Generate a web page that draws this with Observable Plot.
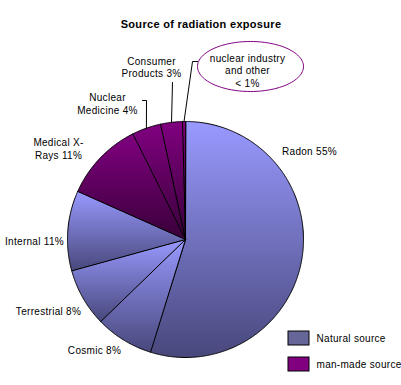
<!DOCTYPE html>
<html><head><meta charset="utf-8">
<script src="https://cdn.jsdelivr.net/npm/d3@7"></script>
<script src="https://cdn.jsdelivr.net/npm/@observablehq/plot@0.6"></script>
<style>body{margin:0;background:#fff} svg{display:block}</style>
</head><body><div id="chart"></div>
<script>
// ---- data ----
const title = "Source of radiation exposure";
const sources = ["Radon","Cosmic","Terrestrial","Internal","Medical X-Rays","Nuclear Medicine","Consumer Products","nuclear industry and other"];
const percents = [55, 8, 8, 11, 11, 4, 3, 0.4];
const kinds = ["natural","natural","natural","natural","manmade","manmade","manmade","manmade"];
const labelTexts = ["Radon 55%","Cosmic 8%","Terrestrial 8%","Internal 11%","Medical X-\nRays 11%","Nuclear\nMedicine 4%","Consumer\nProducts 3%","nuclear industry\nand other\n< 1%"];
const legendKinds = ["natural","manmade"];
const legendLabels = ["Natural source","man-made source"];

// ---- layout ----
const W = 401, H = 385;
const cx = 185, cy = 239, R = 118;
const labelPos = [[309,150],[94,349],[48,310],[34,240],[58,148],[107,103],[151,66.5],[247,69.5]];
const leaderPts = {5: [[142,100],[146,100]], 6: [[172,82]], 7: [[197,61],[192,61]]};
const ellipse = {x: 250, y: 66, rx: 53, ry: 25};
const legendX = 288, legendY = 331, legendStep = 26;

const arcs = d3.pie().sort(null).value(d => d)(percents);
const pt = (a, r) => [cx + r * Math.sin(a), cy - r * Math.cos(a)];

const slicePts = [];
arcs.forEach((a, i) => {
  slicePts.push({name: sources[i], kind: kinds[i], p: [cx, cy]});
  const n = Math.max(2, Math.ceil((a.endAngle - a.startAngle) / (Math.PI / 360)));
  for (let k = 0; k <= n; k++) {
    const t = a.startAngle + (a.endAngle - a.startAngle) * k / n;
    slicePts.push({name: sources[i], kind: kinds[i], p: pt(t, R)});
  }
});

const leaderData = [];
Object.entries(leaderPts).forEach(([i, pts]) => {
  const a = arcs[+i];
  const mid = (a.startAngle + a.endAngle) / 2;
  [...pts, pt(mid, R)].forEach(p => leaderData.push({id: i, p}));
});

const ellipsePts = d3.range(0, 361, 3).map(d => {
  const t = d * Math.PI / 180;
  return [ellipse.x + ellipse.rx * Math.cos(t), ellipse.y + ellipse.ry * Math.sin(t)];
});

const labels = labelTexts.map((t, i) => ({text: t, x: labelPos[i][0], y: labelPos[i][1]}));
const legend = legendKinds.map((k, i) => ({kind: k, label: legendLabels[i], y: legendY + i * legendStep}));

const svg = Plot.plot({
  width: W, height: H,
  margin: 0,
  x: {domain: [0, W], range: [0, W], axis: null},
  y: {domain: [0, H], range: [0, H], axis: null},
  color: {type: "ordinal", domain: ["natural","manmade"], range: ["url(#gNat)","url(#gMan)"]},
  style: {fontFamily: "'Liberation Sans', Arial, sans-serif", fontSize: "10px", background: "#fff", color: "#000", letterSpacing: "0.3px"},
  marks: [
    Plot.line(slicePts, {x: d => d.p[0], y: d => d.p[1], z: "name", fill: "kind", stroke: "#000", strokeWidth: 1, curve: "linear-closed"}),
    Plot.line(leaderData, {x: d => d.p[0], y: d => d.p[1], z: "id", stroke: "#000", strokeWidth: 1}),
    Plot.line(ellipsePts, {x: d => d[0], y: d => d[1], stroke: "#800080", strokeWidth: 1, curve: "linear-closed", fill: "#fff"}),
    Plot.text(labels, {x: "x", y: "y", text: "text", textAnchor: "middle", lineAnchor: "middle", lineHeight: 1.25, fill: "#000", fontSize: 10}),
    Plot.rect(legend, {x1: legendX, x2: legendX + 21, y1: "y", y2: d => d.y + 14, fill: d => d.kind === "natural" ? "#666699" : "#800080", stroke: "#000", strokeWidth: 1}),
    Plot.text(legend, {x: legendX + 28, y: d => d.y + 7, text: "label", textAnchor: "start", fill: "#000", fontSize: 10}),
    Plot.text([title], {x: W / 2, y: 24, text: d => d, fontWeight: "bold", fontSize: 11, fill: "#000"})
  ]
});

const defs = d3.select(svg).insert("defs", ":first-child");
[["gNat", "#9999ff", "#48487c"], ["gMan", "#800080", "#380038"]].forEach(([id, c0, c1]) => {
  const g = defs.append("linearGradient").attr("id", id).attr("x1", 0).attr("y1", 0).attr("x2", 0).attr("y2", 1);
  g.append("stop").attr("offset", "0%").attr("stop-color", c0);
  g.append("stop").attr("offset", "100%").attr("stop-color", c1);
});
document.getElementById("chart").append(svg);
</script>
</body></html>
